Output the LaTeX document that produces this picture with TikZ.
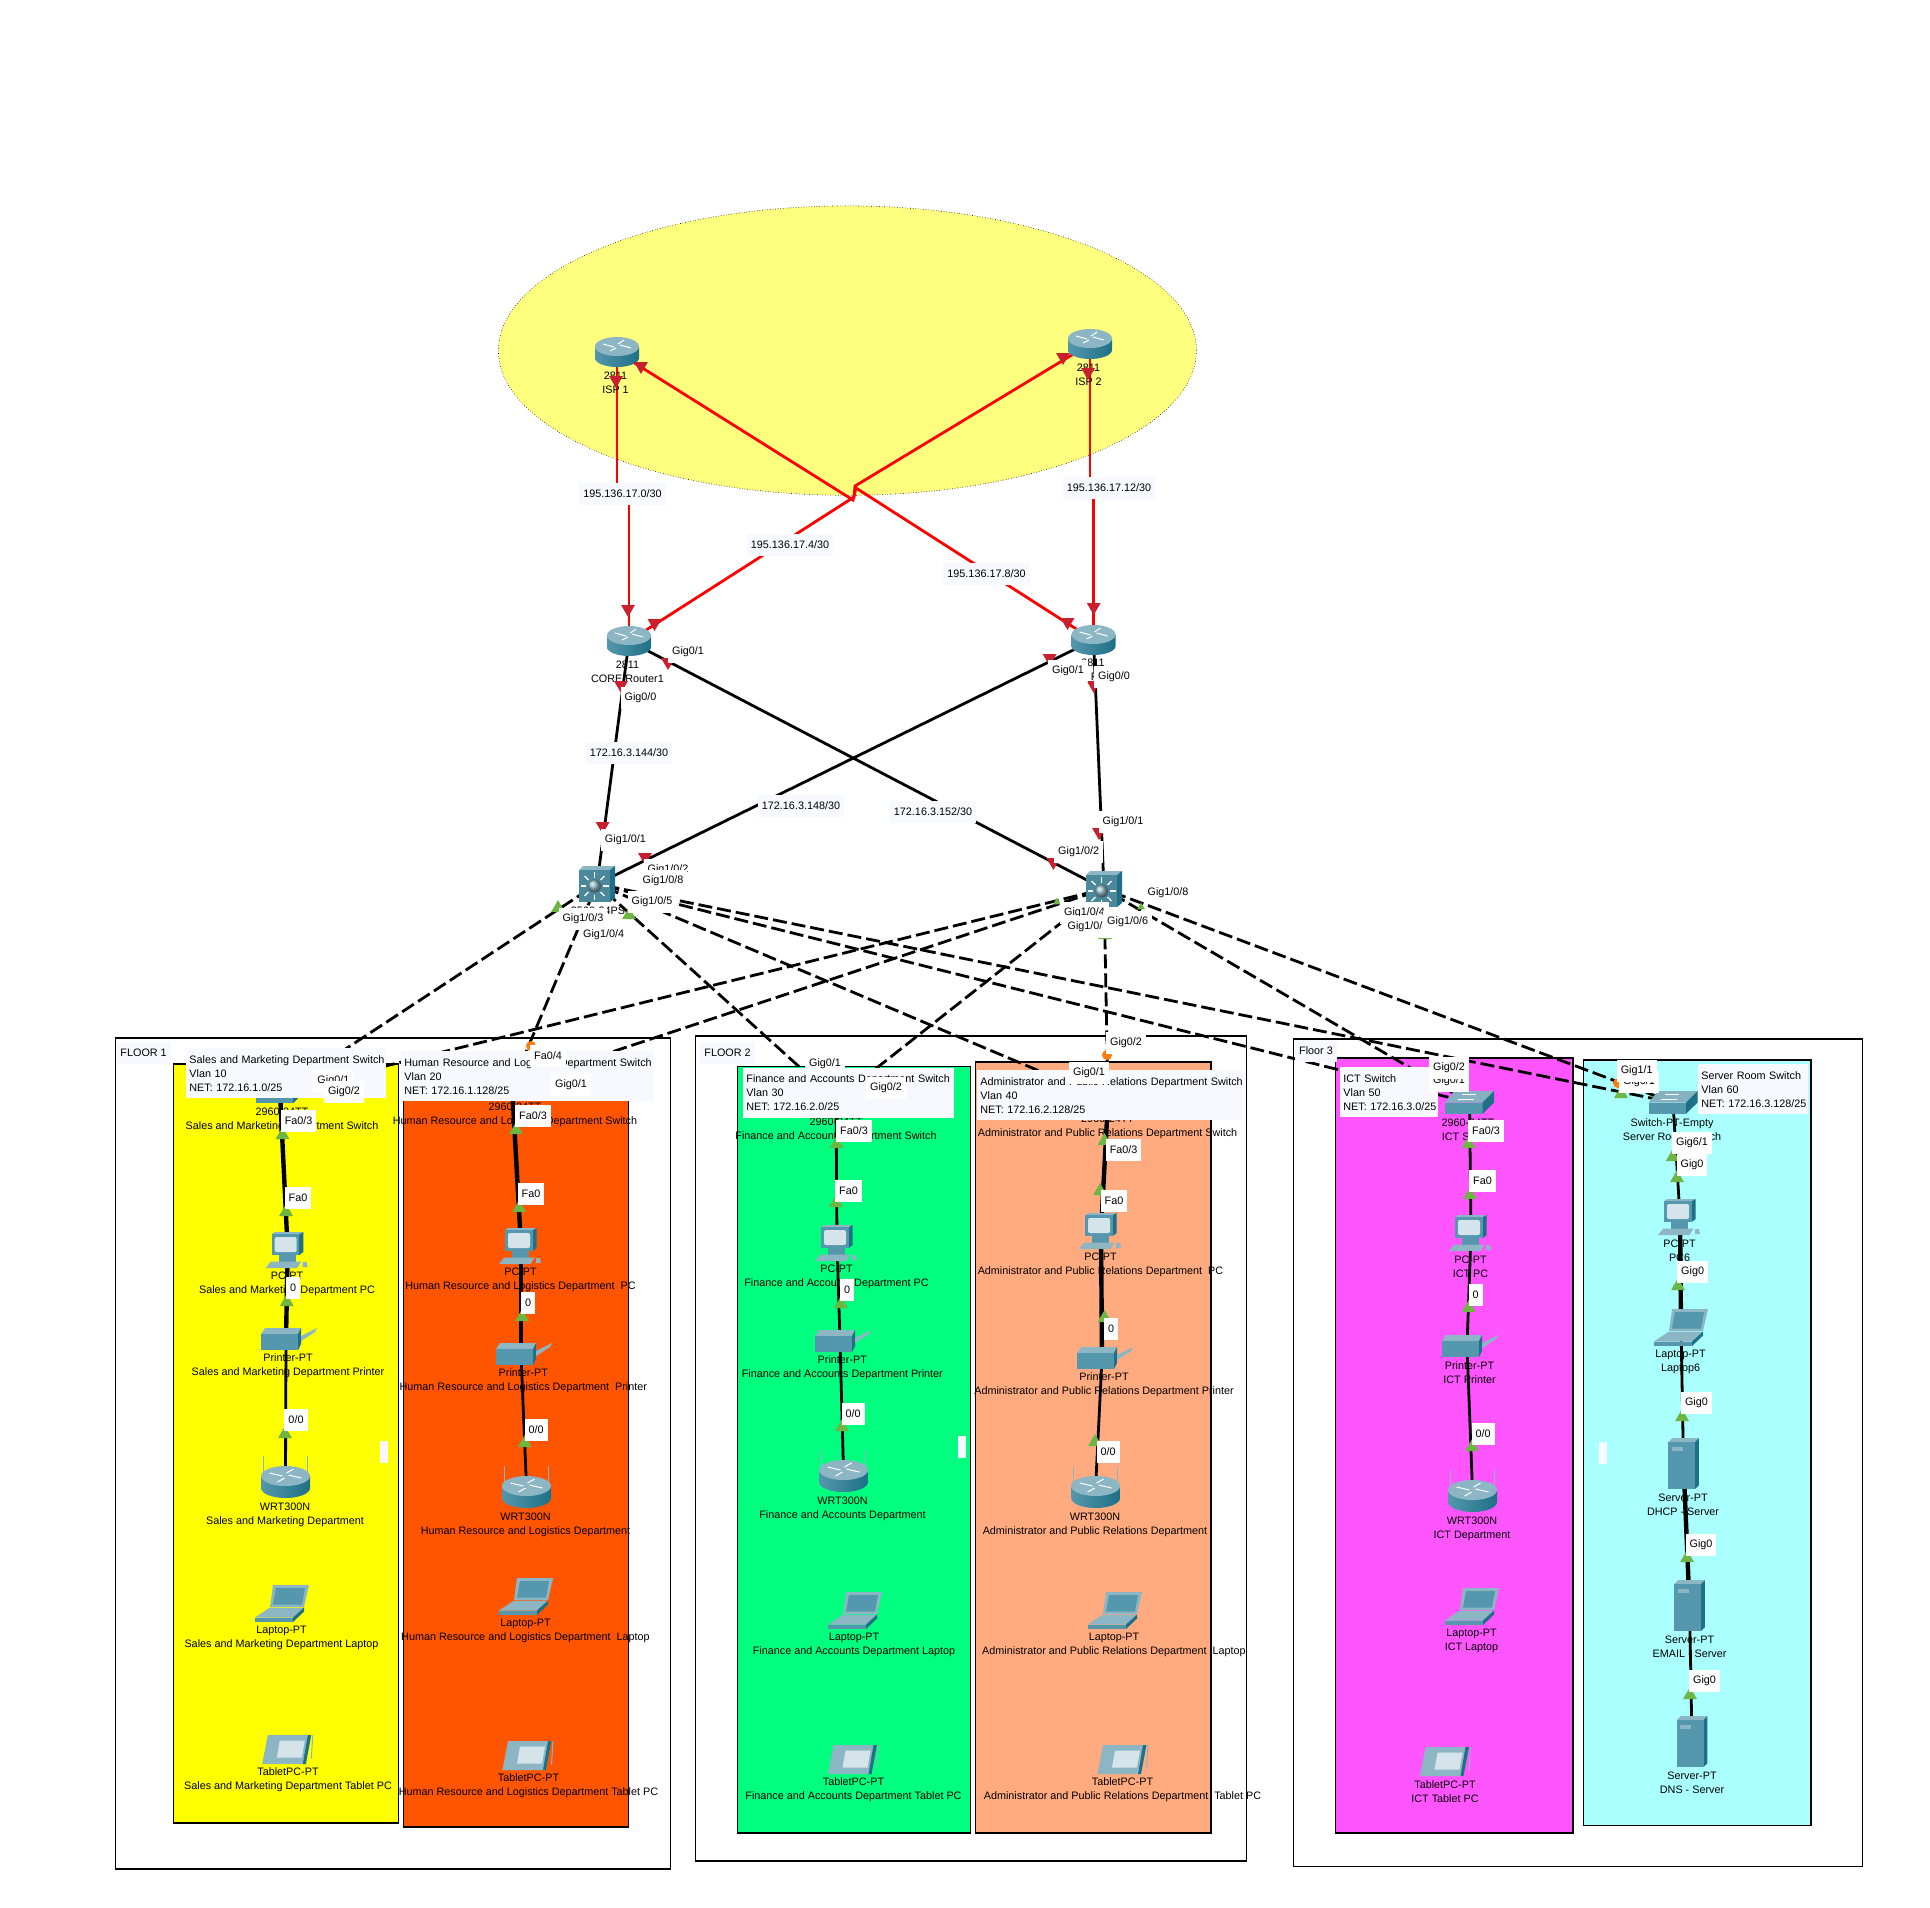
\documentclass[tikz,border=0pt]{standalone}
\usepackage{fontspec}
\setmainfont{Liberation Sans}
\usepackage{xcolor}
\usepackage{tikz}
\usetikzlibrary{shapes.geometric}

\definecolor{cloudfill}{HTML}{FFFF7F}
\definecolor{salesfill}{HTML}{FFFF00}
\definecolor{hrfill}{HTML}{FF5500}
\definecolor{finfill}{HTML}{00FF7F}
\definecolor{adminfill}{HTML}{FFAA7F}
\definecolor{ictfill}{HTML}{FF55FF}
\definecolor{srvfill}{HTML}{AAFFFF}
\definecolor{tagfill}{HTML}{F7F9FF}
\definecolor{lampred}{HTML}{C8202F}
\definecolor{lampgreen}{HTML}{6DB644}
\definecolor{lamporange}{HTML}{FF7A0F}
\definecolor{devfront}{HTML}{5597AD}
\definecolor{devtop}{HTML}{8DB6C4}
\definecolor{devside}{HTML}{1D7086}
\definecolor{devscreen}{HTML}{D4E4EA}

\newcommand{\ptfont}{\fontsize{5.4}{7}\selectfont}

\tikzset{
  dev/.style={inner sep=0pt,minimum size=8pt},
  devtext/.style={font=\ptfont,align=center,inner sep=0pt,yshift=-.5pt},
  porttag/.style={font=\ptfont,fill=white,inner xsep=2pt,inner ysep=0pt,minimum height=10.8pt},
  nettag/.style={font=\ptfont,fill=tagfill,inner xsep=2.2pt,inner ysep=0pt,minimum height=10.8pt},
  notebox/.style={font=\ptfont,fill=tagfill,align=left,anchor=north west,inner xsep=1.5pt,inner ysep=0pt,minimum height=25pt},
  floorbox/.style={draw=black,line width=.7pt},
  roombox/.style={draw=black,line width=.7pt},
  wan/.style={draw=red,line width=1.4pt},
  lan/.style={draw=black,line width=1.4pt},
  lanw/.style={draw=black,line width=2.2pt},
  trunk/.style={draw=black,line width=1.4pt,dash pattern=on 7pt off 2.5pt},
  lamp/.style={regular polygon,regular polygon sides=3,inner sep=0pt,minimum size=8pt},
  routericon/.pic={
    \shade[left color=devfront,middle color=white,right color=devside] (-22,-5.5) -- (-22,6) arc[start angle=180,end angle=0,x radius=22,y radius=9] -- (22,-5.5) -- cycle;
    \fill[devtop] (0,-5.5) ellipse[x radius=22,y radius=9.5];
    \draw[white,line width=.5pt] (-14,-8)--(-3,-5) (14,-4)--(3,-7) (-7,-1)--(-1,-4) (7,-12)--(1,-8);
  },
  wrticon/.pic={
    \draw[devtop,line width=.8pt] (-22,-21)--(-22,-2) (22,-21)--(22,-2);
    \shade[left color=devfront,middle color=white,right color=devside] (-24.5,-1) -- (-24.5,11) arc[start angle=180,end angle=0,x radius=24.5,y radius=10] -- (24.5,-1) -- cycle;
    \fill[devtop] (0,-1) ellipse[x radius=24.5,y radius=10];
    \draw[white,line width=.5pt] (-16,-4)--(-3,-1) (16,1)--(3,-2) (-8,5)--(-1,1) (8,-8)--(1,-4);
  },
  coreicon/.pic={
    \fill[devtop] (-18,-14) -- (-14,-18) -- (18,-18) -- (13,-14) -- cycle;
    \fill[devside] (13,-14) -- (18,-18) -- (18,14) -- (13,18) -- cycle;
    \fill[devfront!90!black] (-18,-14) rectangle (13,18);
    \begin{scope}[shift={(-2.5,2)}]
      \foreach \a in {0,45,...,315}
        \draw[white,line width=.6pt] (\a:8.5) -- (\a:14);
      \shade[ball color=devtop] (0,0) circle (6.5);
    \end{scope}
  },
  switchicon/.pic={
    \fill[devtop!85!devfront] (-15,-11.3) -- (24.5,-11.3) -- (13,0) -- (-24.5,0) -- cycle;
    \fill[devfront] (-24.5,0) rectangle (13,11.3);
    \fill[devside] (13,0) -- (24.5,-11.3) -- (24.5,0) -- (13,11.3) -- cycle;
    \draw[white,line width=.4pt] (-8,-8)--(6,-8) (4,-3)--(-12,-3);
  },
  pcicon/.pic={
    \fill[devtop] (-16,-15.7) -- (-13,-18) -- (15.7,-18) -- (11.5,-15.7) -- cycle;
    \fill[devside] (11.5,-15.7) -- (15.7,-18) -- (15.7,2) -- (11.5,5) -- cycle;
    \fill[devfront] (-16,-15.7) rectangle (11.5,5);
    \fill[devscreen,rounded corners=1pt] (-13,-13) rectangle (9,2);
    \fill[devfront] (-9,5) rectangle (8,11.7);
    \fill[devtop] (-22,18) -- (-17,11.7) -- (13.4,11.7) -- (9.5,18) -- cycle;
    \fill[devtop] (15,12) -- (19,12) -- (20,17) -- (15,17) -- cycle;
  },
  printericon/.pic={
    \fill[devtop] (-25,-5) -- (-21,-11) -- (15,-11) -- (12,-5) -- cycle;
    \fill[devside] (12,-5) -- (15,-11) -- (15,5) -- (12,11) -- cycle;
    \fill[devfront] (-25,-5) rectangle (12,11);
    \fill[devtop] (15,-3) -- (31,-11) -- (29,-7) -- (15,2) -- cycle;
  },
  laptopicon/.pic={
    \fill[devtop] (-9,-18.3) -- (27,-18.3) -- (22,3.3) -- (-12,3.3) -- cycle;
    \fill[devfront] (-6,-15.5) -- (23,-15.5) -- (20,1) -- (-9,1) -- cycle;
    \fill[devtop] (-12,4) -- (22,4) -- (11,14) -- (-27,14) -- cycle;
    \fill[devfront] (-27,14) rectangle (11,18.5);
    \fill[devside] (22,4) -- (11,14) -- (11,18.5) -- (22,8) -- cycle;
  },
  tableticon/.pic={
    \fill[devtop] (-20,-14.5) -- (23.4,-14.5) -- (18,14.5) -- (-25.6,14.5) -- cycle;
    \fill[devside] (20,-14.5) -- (23.4,-14.5) -- (18,14.5) -- (15,14.5) -- cycle;
    \fill[devscreen] (-8,-9) -- (17,-9) -- (14,8) -- (-11,8) -- cycle;
    \draw[devtop,line width=.5pt] (25,-14.5) -- (23.5,9);
  },
  servericon/.pic={
    \fill[devtop] (-15.3,-21.3) -- (-11.5,-25.3) -- (15.3,-25.3) -- (11.5,-21.3) -- cycle;
    \fill[devside] (11.5,-21.3) -- (15.3,-25.3) -- (15.3,21.7) -- (11.5,25.7) -- cycle;
    \fill[devfront] (-15.3,-21.3) rectangle (11.5,25.7);
    \fill[devtop] (-12,-17) rectangle (-1,-13);
  }
}

\begin{document}
\begin{tikzpicture}[x=0.5pt,y=-0.5pt]
\useasboundingbox (0,0) rectangle (1930,1907);

% floors and rooms
\draw[floorbox] (115.3,1038) rectangle (670.6,1869);
\draw[floorbox] (695.5,1036) rectangle (1246.7,1861);
\draw[floorbox] (1293.4,1039) rectangle (1862.5,1866.7);
\foreach \c/\xa/\ya/\xb/\yb in {salesfill/173.5/1064/398.5/1823,
    hrfill/403.5/1066/628.5/1827,
    finfill/737.5/1066.7/970.5/1833,
    adminfill/975.5/1062/1211/1833,
    ictfill/1335.5/1058/1572.8/1833,
    srvfill/1583.5/1060/1810.9/1825.3}
  \draw[roombox,fill=\c] (\xa,\ya) rectangle (\xb,\yb);
\draw[black,line width=.3pt,densely dotted,fill=cloudfill] (847.4,350.6) ellipse[x radius=349,y radius=144.7];

% devices
\foreach \n/\x/\y in {isp1/617/352,isp2/1090/344,core1/629/641,core2/1093.5/640,
    sw1/597/884,sw2/1104/889,
    swsales/280/1092,swhr/512/1085,swfin/836/1100,swadmin/1108/1100,swict/1469.5/1102.5,swsrv/1673/1102.5,
    pcsales/287.7/1250,pchr/521/1246,pcfin/837/1243,pcadmin/1101/1231,pcict/1471/1233,pcsrv/1680/1217,
    prsales/286/1339,prhr/521/1354,prfin/840/1341,pradmin/1102/1358,prict/1467/1346,
    apsales/285.5/1477,aphr/526.5/1487,apfin/843.5/1471,apadmin/1095.6/1487,apict/1472.5/1491,
    lpsales/282/1603.5,lphr/526/1596.5,lpfin/855/1610.5,lpadmin/1115/1610.5,lpict/1472/1606.5,lpsrv/1681/1327.5,
    tbsales/287.8/1749.5,tbhr/528/1755.5,tbfin/853.5/1759.5,tbadmin/1123/1759.5,tbict/1445.5/1761.5,
    dhcp/1683.5/1463.5,email/1689.5/1605.5,dns/1692/1741.5}
  \node[dev] (\n) at (\x,\y) {};

\coordinate (jog0) at (622.5,494);
\coordinate (jog12) at (1109,488);
\coordinate (kinka) at (855,486);
\coordinate (kinkb) at (854,497);
\coordinate (kinkc) at (853,500);
\coordinate (kinkd) at (856,488);

% links
\foreach \a/\b in {sw1/swsales,sw1/swhr,sw1/swfin,sw1/swadmin,sw1/swict,sw1/swsrv,
    sw2/swsales,sw2/swhr,sw2/swfin,sw2/swadmin,sw2/swict,sw2/swsrv}
  \draw[trunk] (\a) -- (\b);
\foreach \a/\b in {core1/sw1,core1/sw2,core2/sw1,core2/sw2}
  \draw[lan] (\a) -- (\b);
\draw[wan] (isp1) -- (isp1 |- jog0) -- (core1 |- jog0) -- (core1);
\draw[wan] (isp2) -- (isp2 |- jog12) -- (core2 |- jog12) -- (core2);
\draw[wan] (isp2) -- (kinka) -- (kinkb) -- (core1);
\draw[wan] (isp1) -- (kinkc) -- (kinkd) -- (core2);

\foreach \a/\b in {pcict/prict,prict/apict,swict/pcict,pcfin/prfin,prfin/apfin,swfin/pcfin,
    prhr/aphr,prsales/apsales,pradmin/apadmin,lpsrv/dhcp,email/dns,swsrv/pcsrv}
  \draw[lan] (\a) -- (\b);
\foreach \a/\b in {swsales/pcsales,pcsales/prsales,swhr/pchr,pchr/prhr,swadmin/pcadmin,pcadmin/pradmin,pcsrv/lpsrv,dhcp/email}
  \draw[lanw] (\a) -- (\b);

% icons
\foreach \n in {isp1,isp2,core1,core2} \pic at (\n) {routericon};
\foreach \n in {sw1,sw2} \pic at (\n) {coreicon};
\foreach \n in {swsales,swhr,swfin,swadmin,swict,swsrv} \pic at (\n) {switchicon};
\foreach \n in {pcsales,pchr,pcfin,pcadmin,pcict,pcsrv} \pic at (\n) {pcicon};
\foreach \n in {prsales,prhr,prfin,pradmin,prict} \pic at (\n) {printericon};
\foreach \n in {apsales,aphr,apfin,apadmin,apict} \pic at (\n) {wrticon};
\foreach \n in {lpsales,lphr,lpfin,lpadmin,lpict,lpsrv} \pic at (\n) {laptopicon};
\foreach \n in {tbsales,tbhr,tbfin,tbadmin,tbict} \pic at (\n) {tableticon};
\foreach \n in {dhcp,email,dns} \pic at (\n) {servericon};

% device names
\foreach \x/\y/\t [count=\i] in {615.5/382/{2811\\ISP 1},1088.5/374/{2811\\ISP 2},627.5/671/{2811\\CORE Router1},1093/669/{2811\\CORE Router2},
    598/910/{3560-24PS},
    282/1119/{2960-24TT\\Sales and Marketing Department Switch},
    515/1114/{2960-24TT\\Human Resource and Logistics Department Switch},
    836/1129/{2960-24TT\\Finance and Accounts Department Switch},
    1107.6/1126/{2960-24TT\\Administrator and Public Relations Department Switch},
    1468/1129/{2960-24TT\\ICT Switch},
    1672/1129/{Switch-PT-Empty\\Server Room Switch},
    287/1283/{PC-PT\\Sales and Marketing Department PC},
    520.5/1279/{PC-PT\\Human Resource and Logistics Department~ PC},
    836.5/1276/{PC-PT\\Finance and Accounts Department PC},
    1100.5/1264/{PC-PT\\Administrator and Public Relations Department~ PC},
    1470.5/1266/{PC-PT\\ICT PC},
    1679.5/1250/{PC-PT\\PC6},
    288/1365/{Printer-PT\\Sales and Marketing Department Printer},
    523.3/1380/{Printer-PT\\Human Resource and Logistics Department~ Printer},
    842.3/1367/{Printer-PT\\Finance and Accounts Department Printer},
    1104/1384/{Printer-PT\\Administrator and Public Relations Department Printer},
    1469.5/1372/{Printer-PT\\ICT Printer},
    285/1514/{WRT300N\\Sales and Marketing Department},
    525.5/1524/{WRT300N\\Human Resource and Logistics Department},
    842.5/1508/{WRT300N\\Finance and Accounts Department},
    1095/1524/{WRT300N\\Administrator and Public Relations Department},
    1472/1528/{WRT300N\\ICT Department},
    281.5/1637/{Laptop-PT\\Sales and Marketing Department Laptop},
    525.5/1630/{Laptop-PT\\Human Resource and Logistics Department~ Laptop},
    854/1644/{Laptop-PT\\Finance and Accounts Department Laptop},
    1114/1644/{Laptop-PT\\Administrator and Public Relations Department~ Laptop},
    1471.5/1640/{Laptop-PT\\ICT Laptop},
    1680.5/1361/{Laptop-PT\\Laptop6},
    288/1779/{TabletPC-PT\\Sales and Marketing Department Tablet PC},
    528.5/1785/{TabletPC-PT\\Human Resource and Logistics Department Tablet PC},
    853.5/1789/{TabletPC-PT\\Finance and Accounts Department Tablet PC},
    1122.5/1789/{TabletPC-PT\\Administrator and Public Relations Department~ Tablet PC},
    1445/1791/{TabletPC-PT\\ICT Tablet PC},
    1683/1504/{Server-PT\\DHCP - Server},
    1689.5/1646/{Server-PT\\EMAIL - Server},
    1692/1782/{Server-PT\\DNS - Server}}
  \node[devtext] (name\i) at (\x,\y) {\t};

% notes
\foreach \x/\y/\w/\t [count=\i] in {186/1048/97pt/{\mbox{Sales and Marketing Department Switch}\\Vlan 10\\NET: 172.16.1.0/25},
    401/1051/123.5pt/{\mbox{Human Resource and Logistics Department Switch}\\Vlan 20\\NET: 172.16.1.128/25},
    743/1067.7/102.5pt/{\mbox{Finance and Accounts Department Switch}\\Vlan 30\\NET: 172.16.2.0/25},
    977/1070/129.8pt/{\mbox{Administrator and Public Relations Department Switch}\\Vlan 40\\NET: 172.16.2.128/25},
    1340/1067/46pt/{ICT Switch\\Vlan 50\\\mbox{NET: 172.16.3.0/25}},
    1698/1064/52pt/{\mbox{Server Room Switch}\\Vlan 60\\\mbox{NET: 172.16.3.128/25}}}
  \node[notebox,text width=\w] (note\i) at (\x,\y) {\t};

\node[nettag] (floora) at (143.6,1053) {FLOOR 1};
\node[nettag] (floorb) at (727.5,1053) {FLOOR 2};
\node[nettag] (floorc) at (1316,1051) {Floor 3};
\node[nettag] (net0) at (jog0) {195.136.17.0/30};
\node[nettag] (net12) at (jog12) {195.136.17.12/30};
\node[nettag] (net4) at (790,545) {195.136.17.4/30};
\node[nettag] (net8) at (986.5,574) {195.136.17.8/30};
\node[nettag] (net144) at (629,753) {172.16.3.144/30};
\node[nettag] (net148) at (801,806) {172.16.3.148/30};
\node[nettag] (net152) at (933,812) {172.16.3.152/30};
\foreach \xa/\ya/\xb/\yb [count=\i] in {380/1441/388/1463,958/1436/966/1458,1599/1442/1607/1464}
  \fill[tagfill] (\xa,\ya) rectangle (\xb,\yb);

% link lights
\foreach \x/\y [count=\i] in {616/380,628/609,1088/372,1093.7/607,654.5/623,1063/357,641/366,1067.5/622,
    621/685,602.6/826,668/662,1053.4/862,1049.6/658,645/857,1093.7/685,1099/832}
  \node[lamp,fill=lampred,rotate=180] (red\i) at (\x,\y) {};
\foreach \x/\y [count=\i] in {282.5/1135,286/1212,286.8/1302,285/1434,
    516/1130,519/1208,522/1317,524.8/1443,
    836.6/1144,836/1203,841/1304,842/1427,
    1104.5/1141,1100/1191,1104.5/1318,1095/1442,
    1468.7/1144,1470/1195,1468.7/1308,1472/1447,
    1672.7/1157,1677/1178,1678/1286,1682/1417,1687/1558,1690/1695,1621/1094,
    558/908,629/915,576/926,1105/935}
  \node[lamp,fill=lampgreen] (green\i) at (\x,\y) {};
\foreach \x/\y [count=\i] in {1057/902,1141/907}
  \node[lamp,fill=lampgreen,minimum size=4.5pt] (sliver\i) at (\x,\y) {};
\foreach \x/\y [count=\i] in {531/1046,1107/1055,1618/1083}
  \node[circle,fill=lamporange,inner sep=0pt,minimum size=5pt] (amber\i) at (\x,\y) {};

% port tags
\foreach \x/\y/\t [count=\i] in {688/652/{Gig0/1},640.5/698/{Gig0/0},625.4/840/{Gig1/0/1},
    1068/671/{Gig0/1},1114/677/{Gig0/0},1123/822/{Gig1/0/1},1078.6/852/{Gig1/0/2},
    668/870/{Gig1/0/2},663/881/{Gig1/0/8},652/902/{Gig1/0/5},583/919/{Gig1/0/3},603.6/935/{Gig1/0/4},
    1168/893/{Gig1/0/8},1084.5/913/{Gig1/0/4},1088/927/{Gig1/0/5},1127.6/922/{Gig1/0/6},
    548/1056/{Fa0/4},
    333.4/1081/{Gig0/1},344/1092/{Gig0/2},298.6/1120.7/{Fa0/3},298/1198/{Fa0},293/1288/{0},296/1420/{0/0},
    571/1085/{Gig0/1},533/1116/{Fa0/3},531/1194/{Fa0},528/1303/{0},536/1430/{0/0},
    825/1064/{Gig0/1},886/1088/{Gig0/2},854/1131/{Fa0/3},848.5/1191/{Fa0},847/1290/{0},853/1414/{0/0},
    1126/1043/{Gig0/2},1089/1073/{Gig0/1},1123.6/1150/{Fa0/3},1114/1201/{Fa0},1111/1329/{0},1108/1452/{0/0},
    1449/1081/{Gig0/1},1449/1068/{Gig0/2},1486/1131/{Fa0/3},1482.5/1181/{Fa0},1475.6/1295/{0},1483/1434/{0/0},
    1639/1082/{Gig0/1},1636.7/1071/{Gig1/1},1692/1143/{Gig6/1},1692/1165/{Gig0},1692.6/1272/{Gig0},1696.4/1403/{Gig0},1701/1545/{Gig0},1704.5/1681/{Gig0}}
  \node[porttag] (port\i) at (\x,\y) {\t};
\end{tikzpicture}
\end{document}
